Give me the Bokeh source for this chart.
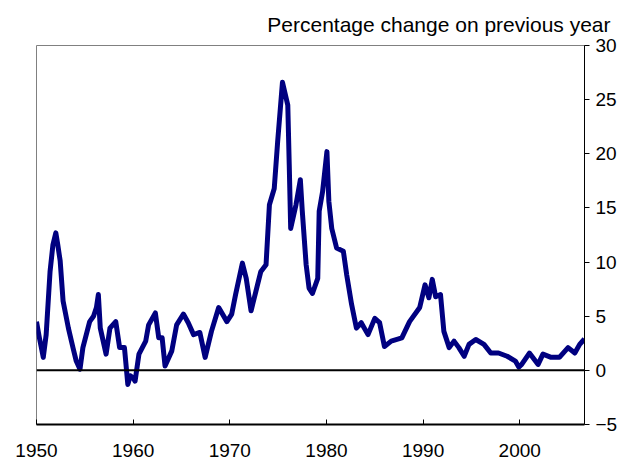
from bokeh.plotting import figure
from bokeh.models import LinearAxis, FixedTicker, Span, Range1d, Title
from bokeh.embed import file_html
from bokeh.resources import INLINE

years = [1950.0, 1950.3, 1950.7, 1951.0, 1951.4, 1951.7, 1952.0, 1952.2, 1952.45, 1952.75,
         1953.3, 1953.8, 1954.1, 1954.5, 1954.8, 1955.5, 1955.9, 1956.2, 1956.4, 1956.6,
         1957.2, 1957.6, 1958.2, 1958.6, 1959.1, 1959.45, 1959.7, 1960.0, 1960.2, 1960.6,
         1961.3, 1961.6, 1962.3, 1962.65, 1963.0, 1963.3, 1964.0, 1964.5, 1965.2, 1965.7,
         1966.25, 1966.9, 1967.45, 1968.1, 1968.85, 1969.7, 1970.2, 1970.6, 1971.3, 1971.7,
         1972.2, 1972.7, 1973.2, 1973.75, 1974.1, 1974.6, 1974.95, 1975.45, 1976.0, 1976.15,
         1976.3, 1976.85, 1977.3, 1977.5, 1977.9, 1978.2, 1978.55, 1979.1, 1979.25, 1979.6,
         1980.05, 1980.25, 1980.55, 1981.05, 1981.75, 1982.1, 1982.6, 1983.1, 1983.6, 1984.3,
         1985.0, 1985.5, 1986.0, 1986.7, 1987.8, 1988.6, 1989.65, 1990.2, 1990.6, 1990.95,
         1991.3, 1991.8, 1992.15, 1992.7, 1993.2, 1993.7, 1994.25, 1994.75, 1995.45, 1996.3,
         1997.0, 1997.8, 1998.7, 1999.55, 1999.9, 2000.2, 2001.0, 2001.9, 2002.4, 2003.25,
         2004.1, 2005.0, 2005.7, 2006.2, 2006.7]
inflation = [4.5, 3.0, 1.2, 3.3, 9.1, 11.6, 12.7, 11.6, 10.1, 6.4,
             3.9, 2.0, 0.9, 0.1, 2.1, 4.5, 5.0, 5.8, 7.0, 3.9,
             1.5, 3.9, 4.5, 2.1, 2.1, -1.3, -0.5, -0.7, -1.0, 1.5,
             2.7, 4.2, 5.3, 3.0, 3.0, 0.4, 1.8, 4.2, 5.2, 4.4,
             3.3, 3.5, 1.2, 3.6, 5.8, 4.5, 5.2, 7.0, 9.9, 8.5,
             5.5, 7.3, 9.1, 9.75, 15.3, 16.8, 21.1, 26.6, 24.5, 19.0,
             13.1, 15.3, 17.6, 14.7, 9.75, 7.6, 7.1, 8.5, 14.7, 16.5,
             20.2, 15.6, 13.1, 11.3, 11.0, 8.8, 6.1, 3.9, 4.4, 3.3,
             4.8, 4.4, 2.2, 2.7, 3.0, 4.5, 5.8, 7.9, 6.7, 8.4,
             6.8, 7.0, 3.6, 2.1, 2.7, 2.1, 1.3, 2.4, 2.85, 2.4,
             1.6, 1.6, 1.3, 0.86, 0.3, 0.55, 1.6, 0.55, 1.5, 1.2,
             1.2, 2.1, 1.6, 2.4, 2.9]
x_ticks = [1950, 1960, 1970, 1980, 1990, 2000]
y_ticks = [-5, 0, 5, 10, 15, 20, 25, 30]
title_text = "Percentage change on previous year"

FONT = "Liberation Sans"

p = figure(width=621, height=463, output_backend="svg", toolbar_location=None,
           x_range=Range1d(1950, 2006.7), y_range=Range1d(-5, 30),
           x_axis_location=None, y_axis_location=None,
           min_border_left=36, min_border_top=43, min_border_bottom=39, min_border_right=37)
p.grid.visible = False
p.outline_line_color = "#808080"
p.outline_line_width = 1
p.background_fill_color = "white"
p.border_fill_color = "white"

xa = LinearAxis(ticker=FixedTicker(ticks=x_ticks))
xa.axis_line_color = "black"
xa.axis_line_width = 2
xa.major_tick_in = 5
xa.major_tick_out = 0
xa.minor_tick_line_color = None
xa.major_label_standoff = 19
xa.major_label_text_font = FONT
xa.major_label_text_font_size = "19px"
xa.major_label_text_color = "black"
p.add_layout(xa, "below")

ya = LinearAxis(ticker=FixedTicker(ticks=y_ticks))
ya.axis_line_color = "black"
ya.axis_line_width = 1
ya.major_tick_in = 0
ya.major_tick_out = 5
ya.minor_tick_line_color = None
ya.major_label_standoff = 6
ya.major_label_text_font = FONT
ya.major_label_text_font_size = "19px"
ya.major_label_text_color = "black"
p.add_layout(ya, "right")

t = Title(text=title_text, align="right", text_font=FONT, text_font_size="21px",
          text_font_style="normal", text_color="black", offset=-26, standoff=20)
p.add_layout(t, "above")

p.add_layout(Span(location=0, dimension="width", line_color="black", line_width=2))

p.line(years, inflation, line_color="#000080", line_width=5, line_join="round")

open("out.html", "w").write(file_html(p, INLINE))
